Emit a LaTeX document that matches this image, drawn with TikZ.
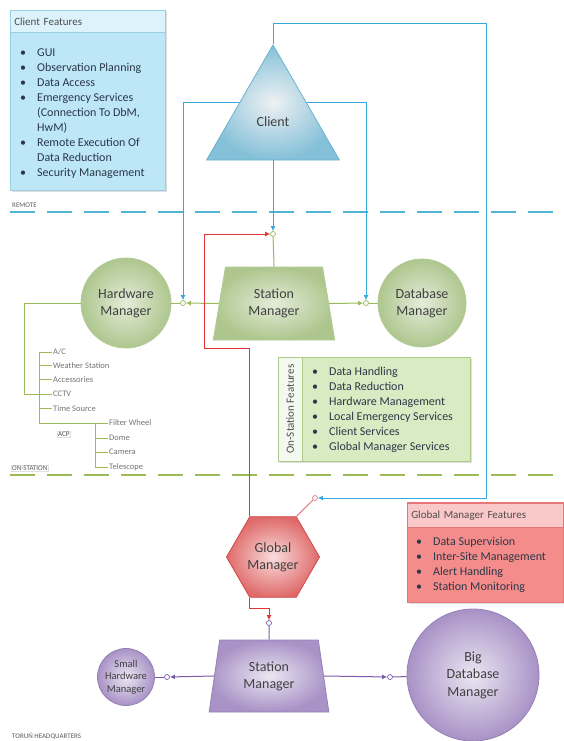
\documentclass[tikz,border=0pt]{standalone}
\usepackage{fontspec}
\setmainfont{Carlito}
\usetikzlibrary{shapes.geometric,arrows.meta,shadows}

\definecolor{clientin}{HTML}{EEF1F3}
\definecolor{clientout}{HTML}{84C0D8}
\definecolor{clientdraw}{HTML}{6AB2D0}
\definecolor{cffill}{HTML}{BDE6F7}
\definecolor{cfhead}{HTML}{DDF3FB}
\definecolor{cfborder}{HTML}{9ACFE3}
\definecolor{bluewire}{HTML}{35A9DC}
\definecolor{remotedash}{HTML}{52B5D8}
\definecolor{greenin}{HTML}{E3ECD9}
\definecolor{greenout}{HTML}{AEC68E}
\definecolor{greendraw}{HTML}{B3CB97}
\definecolor{osfill}{HTML}{D9EBC3}
\definecolor{oshead}{HTML}{F4F9EF}
\definecolor{osborder}{HTML}{AFCB8B}
\definecolor{greenwire}{HTML}{9BBB59}
\definecolor{redin}{HTML}{F8DCDC}
\definecolor{redout}{HTML}{E06A6A}
\definecolor{reddraw}{HTML}{D04848}
\definecolor{gffill}{HTML}{F58C8C}
\definecolor{gfhead}{HTML}{FAC8C8}
\definecolor{gfborder}{HTML}{E57777}
\definecolor{redwire}{HTML}{E03535}
\definecolor{pinkwire}{HTML}{E57D7D}
\definecolor{purplein}{HTML}{EBE6F2}
\definecolor{purpleout}{HTML}{A892C6}
\definecolor{purpledraw}{HTML}{9580B5}
\definecolor{purplewire}{HTML}{7B5CA8}
\definecolor{listtext}{HTML}{2A3848}

\newcommand{\itm}{\makebox[17pt][l]{\textbullet}}
\newcommand{\itmc}{\hspace*{17pt}}

\begin{document}
\begin{tikzpicture}[x=1pt, y=-1pt,
    every node/.style={font=\fontsize{14}{17}\selectfont, text=black!75},
    bigshape/.style={align=center, inner sep=0pt, line width=0.8pt, shade},
    featbox/.style={draw, line width=0.6pt, drop shadow={opacity=0.25, shadow xshift=1.5pt, shadow yshift=-1.5pt}},
    feattitle/.style={draw, line width=0.6pt, align=left, inner xsep=4pt, font=\fontsize{11}{13}\selectfont, text=black!70},
    featlist/.style={align=left, inner sep=0pt, font=\fontsize{12}{15}\selectfont, text=listtext},
    port/.style={circle, draw, fill=white, inner sep=0pt, minimum size=5pt, line width=0.7pt},
    wire/.style={line width=1pt},
    tip/.style={-{Latex[length=5pt,width=5pt]}},
    zone/.style={line width=2.6pt, dash pattern=on 25pt off 12pt},
    zonelabel/.style={font=\fontsize{7}{8}\selectfont, text=black!65, inner sep=1pt, anchor=west},
    hwitem/.style={font=\fontsize{8.5}{9}\selectfont, text=black!55, inner sep=1pt, anchor=west},
    treeline/.style={draw=greenwire, line width=0.9pt}
  ]
  \useasboundingbox (0,0) rectangle (564,741);

  % remote
  \node[featbox, fill=cffill, draw=cfborder, minimum width=155, minimum height=180] (cfbox) at (87.5,100) {};
  \node[feattitle, fill=cfhead, draw=cfborder, anchor=north west, minimum width=155, minimum height=22, text width=147] (cftitle) at (10,10) {Client Features};
  \node[featlist, anchor=north west] (cflist) at (20,48.5) {\itm GUI\\ \itm Observation Planning\\ \itm Data Access\\ \itm Emergency Services\\ \itmc(Connection To DbM,\\ \itmc HwM)\\ \itm Remote Execution Of\\ \itmc Data Reduction\\ \itm Security Management};

  \node[bigshape, regular polygon, regular polygon sides=3, minimum size=153.4, inner color=clientin, outer color=clientout, draw=clientdraw] (client) at (273,121.7) {Client};

  \draw[zone, draw=remotedash] (10,212) -- (564,212);
  \node[zonelabel] (remote) at (11,205) {REMOTE};

  % on-station
  \node[bigshape, trapezium, trapezium left angle=77.6, trapezium right angle=77.6, trapezium stretches=true, minimum width=122, minimum height=73, inner color=greenin, outer color=greenout, draw=greendraw] (sm) at (274,303.5) {Station\\Manager};
  \node[bigshape, circle, minimum size=90, inner color=greenin, outer color=greenout, draw=greendraw] (hw) at (126,303) {Hardware\\Manager};
  \node[bigshape, circle, minimum size=88, inner color=greenin, outer color=greenout, draw=greendraw] (db) at (422,303) {Database\\Manager};

  \node[port, draw=greenwire] (sport) at (273,234) {};
  \node[port, draw=greenwire] (hwport) at (183,303) {};
  \node[port, draw=greenwire] (dbport) at (366,303) {};

  \node[featbox, fill=osfill, draw=osborder, minimum width=192, minimum height=104] (osbox) at (374,409) {};
  \node[draw=osborder, fill=oshead, line width=0.6pt, rotate=90, minimum width=104, minimum height=24, inner sep=0pt, font=\fontsize{11}{13}\selectfont, text=black!70] (ostitle) at (290,409) {On-Station Features};
  \node[featlist, anchor=north west] (oslist) at (312,367) {\itm Data Handling\\ \itm Data Reduction\\ \itm Hardware Management\\ \itm Local Emergency Services\\ \itm Client Services\\ \itm Global Manager Services};

  % hardware tree
  \coordinate (hwleft) at (24,303);
  \coordinate (hwbus) at (39,352);
  \coordinate (acpbus) at (95,423);
  \node[hwitem] (ac) at (52,352) {A/C};
  \node[hwitem] (ws) at (52,365.5) {Weather Station};
  \node[hwitem] (acc) at (52,379.5) {Accessories};
  \node[hwitem] (cctv) at (52,394) {CCTV};
  \node[hwitem] (ts) at (52,408.5) {Time Source};
  \node[hwitem] (fw) at (108,423) {Filter Wheel};
  \node[hwitem] (dome) at (108,438) {Dome};
  \node[hwitem] (cam) at (108,452) {Camera};
  \node[hwitem] (tel) at (108,467) {Telescope};
  \node[hwitem, draw=black!12, font=\fontsize{7}{8}\selectfont, text=black!70] (acp) at (57,434) {ACP};

  \draw[treeline] (hw.west) -- (hwleft) |- (hwbus |- cctv);
  \draw[treeline] (hwbus) -- (hwbus |- acpbus) -- (fw.west);
  \draw[treeline] (acpbus) -- (acpbus |- tel);
  \draw[treeline] (hwbus) -- (ac.west);
  \draw[treeline] (hwbus |- ws) -- (ws.west);
  \draw[treeline] (hwbus |- acc) -- (acc.west);
  \draw[treeline] (hwbus |- cctv) -- (cctv.west);
  \draw[treeline] (hwbus |- ts) -- (ts.west);
  \draw[treeline] (acpbus |- dome) -- (dome.west);
  \draw[treeline] (acpbus |- cam) -- (cam.west);
  \draw[treeline] (acpbus |- tel) -- (tel.west);

  \draw[zone, draw=greenwire] (10,475) -- (564,475);
  \node[zonelabel, draw=black!12] (onstation) at (11,468) {ON-STATION};

  % headquarters
  \node[bigshape, regular polygon, regular polygon sides=6, minimum size=93, inner color=redin, outer color=redout, draw=reddraw] (gm) at (273,557) {Global\\Manager};
  \node[port, draw=pinkwire] (gport) at (315,498) {};

  \node[featbox, fill=gffill, draw=gfborder, minimum width=156, minimum height=100] (gfbox) at (485,552) {};
  \node[feattitle, fill=gfhead, draw=gfborder, anchor=north west, minimum width=156, minimum height=24, text width=148] (gftitle) at (407,503) {Global Manager Features};
  \node[featlist, anchor=north west] (gflist) at (416,537) {\itm Data Supervision\\ \itm Inter-Site Management\\ \itm Alert Handling\\ \itm Station Monitoring};

  \node[bigshape, trapezium, trapezium left angle=79.4, trapezium right angle=79.4, trapezium stretches=true, minimum width=120, minimum height=72, inner color=purplein, outer color=purpleout, draw=purpledraw] (bsm) at (269,676) {Station\\Manager};
  \node[bigshape, circle, minimum size=57, inner color=purplein, outer color=purpleout, draw=purpledraw, font=\fontsize{10.5}{12.5}\selectfont] (shw) at (126,677) {Small\\Hardware\\Manager};
  \node[bigshape, circle, minimum size=132, inner color=purplein, outer color=purpleout, draw=purpledraw, font=\fontsize{14}{17.5}\selectfont] (bdb) at (473,675) {Big\\Database\\Manager};

  \node[port, draw=purplewire] (bport) at (269,623) {};
  \node[port, draw=purplewire] (shport) at (167,677) {};
  \node[port, draw=purplewire] (bdport) at (390,677) {};

  \node[zonelabel] (torun) at (11,736) {TORUŃ HEADQUARTERS};

  % connectors
  \draw[wire, tip, draw=bluewire] (client.corner 1) |- (486,24) |- (gport);
  \draw[wire, tip, draw=bluewire] (client.side 2) -- (sport);
  \draw[wire, tip, draw=bluewire] (client.side 1) -| (hwport);
  \draw[wire, tip, draw=bluewire] (client.side 3) -| (dbport);

  \draw[wire, draw=greenwire] (sport) -- (sm.north);
  \draw[wire, tip, draw=greenwire] (sm.west) -- (hwport);
  \draw[wire, draw=greenwire] (hwport) -- (hw);
  \draw[wire, tip, draw=greenwire] (sm.east) -- (dbport);
  \draw[wire, draw=greenwire] (dbport) -- (db);

  \draw[wire, tip, draw=redwire] (gm.120) |- (204,348) |- (sport);
  \draw[wire, draw=pinkwire] (gm.60) -- (gport);
  \draw[wire, tip, draw=redwire] (gm.240) -- ++(0,11) -| (bport);

  \draw[wire, draw=purplewire] (bport) -- (bsm.north);
  \draw[wire, tip, draw=purplewire] (bsm.west) -- (shport);
  \draw[wire, draw=purplewire] (shport) -- (shw);
  \draw[wire, tip, draw=purplewire] (bsm.east) -- (bdport);
  \draw[wire, draw=purplewire] (bdport) -- (bdb);
\end{tikzpicture}
\end{document}
